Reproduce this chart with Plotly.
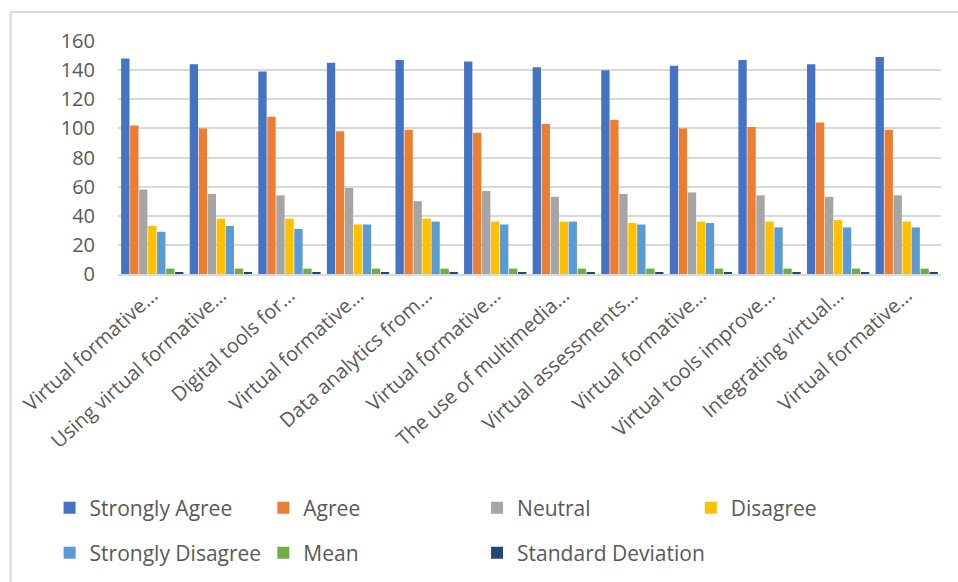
import plotly.graph_objects as go

categories = [
    "Virtual formative…", "Using virtual formative…", "Digital tools for…",
    "Virtual formative…", "Data analytics from…", "Virtual formative…",
    "The use of multimedia…", "Virtual assessments…", "Virtual formative…",
    "Virtual tools improve…", "Integrating virtual…", "Virtual formative…",
]
strongly_agree = [148, 144, 139, 145, 147, 146, 142, 140, 143, 147, 144, 149]
agree = [102, 100, 108, 98, 99, 97, 103, 106, 100, 101, 104, 99]
neutral = [58, 55, 54, 59, 50, 57, 53, 55, 56, 54, 53, 54]
disagree = [33, 38, 38, 34, 38, 36, 36, 35, 36, 36, 37, 36]
strongly_disagree = [29, 33, 31, 34, 36, 34, 36, 34, 35, 32, 32, 32]
mean = [3.7, 3.7, 3.7, 3.7, 3.7, 3.7, 3.7, 3.7, 3.7, 3.7, 3.7, 3.7]
std_dev = [0.8, 0.8, 0.8, 0.8, 0.8, 0.8, 0.8, 0.8, 0.8, 0.8, 0.8, 0.8]
y_ticks = [0, 20, 40, 60, 80, 100, 120, 140, 160]

series = [
    ("Strongly Agree", strongly_agree, "#4472C4"),
    ("Agree", agree, "#ED7D31"),
    ("Neutral", neutral, "#A5A5A5"),
    ("Disagree", disagree, "#FFC000"),
    ("Strongly Disagree", strongly_disagree, "#5B9BD5"),
    ("Mean", mean, "#70AD47"),
    ("Standard Deviation", std_dev, "#264478"),
]

FONT = "Open Sans, Noto Sans, sans-serif"
W, H = 958, 582
L, R, T, B = 117.5, 16.5, 41, 308
pw, ph = W - L - R, H - T - B

def px(x):
    return (x - L) / pw

def py(y):
    return (H - B - y) / ph

# legend item text start (pixels) and row centre
legend_pos = [(90, 508), (304, 508), (518, 508), (732, 508),
              (90, 553), (304, 553), (518, 553)]

xs = list(range(len(categories)))
fig = go.Figure()
layout_legends = {}
for i, (name, vals, col) in enumerate(series):
    lname = "legend" if i == 0 else f"legend{i+1}"
    fig.add_trace(go.Bar(x=xs, y=vals, name=name, marker_color=col,
                         marker_line_width=0, legend=lname))
    lx, ly = legend_pos[i]
    layout_legends[lname] = dict(
        x=px(lx - 41), y=py(ly), xanchor="left", yanchor="middle",
        font=dict(family=FONT, size=21, color="#595959"),
        bgcolor="rgba(0,0,0,0)", itemwidth=30, tracegroupgap=0,
    )

fig.update_layout(
    width=W, height=H,
    margin=dict(l=L, r=R, t=T, b=B, autoexpand=False),
    paper_bgcolor="white", plot_bgcolor="white",
    barmode="group", bargap=0.082, bargroupgap=0.074,
    showlegend=True,
    font=dict(family=FONT, color="#595959"),
    **layout_legends,
)
fig.update_xaxes(
    tickmode="array", tickvals=xs, ticktext=categories,
    tickangle=-42, tickfont=dict(family=FONT, size=20, color="#595959"),
    range=[-0.5, len(categories) - 0.5],
    showline=True, linecolor="#D9D9D9", linewidth=2,
    showgrid=False, ticks="", fixedrange=True, automargin=False,
)
fig.update_yaxes(
    range=[0, 160], tickvals=y_ticks,
    tickfont=dict(family=FONT, size=20, color="#595959"),
    showgrid=True, gridcolor="#D9D9D9", gridwidth=2,
    zeroline=False, showline=False, ticks="", ticklabelstandoff=22,
    automargin=False,
)
# chart border (only top and left edges visible in the reference)
fig.add_shape(type="line", xref="paper", yref="paper",
              x0=px(10), x1=px(W + 5), y0=py(12), y1=py(12),
              line=dict(color="#D9D9D9", width=2))
fig.add_shape(type="line", xref="paper", yref="paper",
              x0=px(10), x1=px(10), y0=py(12), y1=py(H + 5),
              line=dict(color="#D9D9D9", width=2))

fig.write_html("out.html")
